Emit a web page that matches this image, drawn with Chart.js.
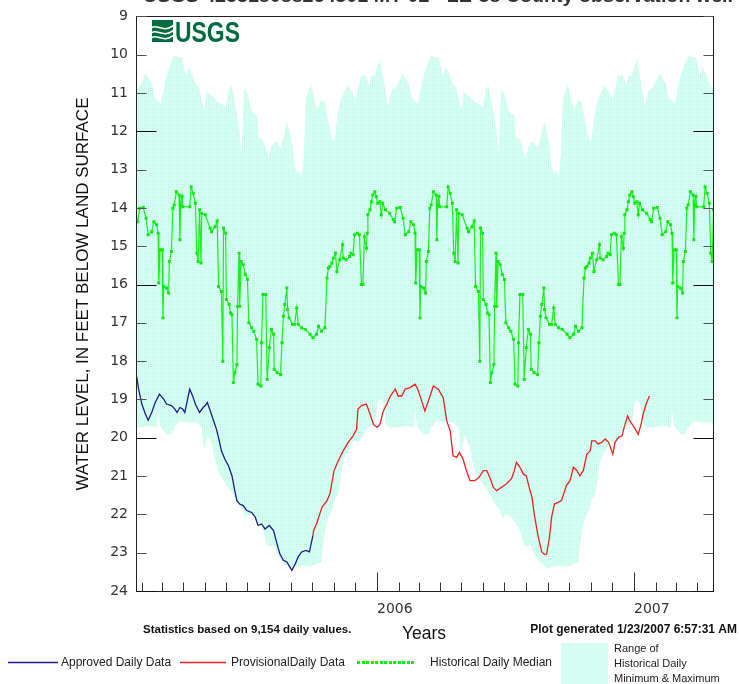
<!DOCTYPE html>
<html>
<head>
<meta charset="utf-8">
<title>Groundwater level</title>
<script src="https://cdn.jsdelivr.net/npm/chart.js@4.4.1/dist/chart.umd.min.js"></script>
<style>
  html, body { margin: 0; padding: 0; background: #fff; }
  canvas { display: block; }
</style>
</head>
<body>
<canvas id="well" width="739" height="684"></canvas>
<script>
// Time axis: day numbers counted from 2005-01-01 (day 0).
const X_MIN = 22.7, X_MAX = 842.2;
const yearTicks = [365, 730];
const yearLabels = ['2006', '2007'];
const DEPTH_MIN = 9, DEPTH_MAX = 24;

// Historical daily statistics, keyed by day of year: [day, feet below land surface]
const medianByDay = [
  [1,13.88],[4,13.84],[6,14.18],[8,13.88],[12,14.05],[18,14.14],[23,14.30],[25,14.36],
  [28,14.01],[33,13.99],[37,14.27],[40,14.70],[45,14.62],[48,14.36],[52,14.44],[54,14.66],
  [55,15.96],[57,15.09],[60,15.09],[61,16.87],[62,16.05],[66,16.09],[69,16.22],[70,15.40],
  [73,15.14],[75,14.01],[77,13.92],[80,13.58],[84,13.66],[85,14.83],[86,13.92],[88,13.70],
  [89,13.97],[99,13.97],[101,13.45],[104,13.62],[107,13.88],[109,15.18],[111,15.40],[113,14.05],
  [115,15.44],[116,14.14],[121,14.18],[128,14.53],[130,14.62],[135,14.49],[138,14.34],[140,16.05],
  [144,16.18],[146,18.00],[147,14.53],[150,14.66],[151,16.39],[155,16.52],[157,16.74],[159,16.79],
  [161,18.56],[163,18.30],[166,18.09],[167,16.57],[169,15.18],[170,16.57],[172,15.40],[175,15.48],
  [178,15.74],[181,15.87],[183,17.00],[187,17.13],[190,17.22],[194,17.43],[196,18.60],[200,18.65],
  [201,17.52],[203,16.26],[207,16.26],[209,18.48],[212,17.65],[215,17.17],[218,17.30],[219,18.21],
  [223,18.30],[228,18.35],[230,17.52],[232,16.83],[234,16.52],[237,16.09],[238,16.65],[240,16.87],
  [245,17.04],[248,17.04],[251,16.61],[253,17.04],[258,17.13],[263,17.17],[270,17.30],[274,17.39],
  [279,17.30],[282,17.09],[286,17.22],[291,17.13],[294,15.83],[296,15.57],[298,15.53],[301,15.44],
  [303,15.31],[306,15.18],[308,15.66],[312,15.35],[316,14.96],[317,15.31],[321,15.35],[326,15.27],
  [328,15.18],[331,15.22],[333,14.70],[337,14.66],[340,14.70],[343,16.00],[345,16.00],[347,14.75],
  [350,15.05],[351,14.66],[352,14.18],[355,14.05],[357,13.84],[359,13.66],[362,13.58],[364,13.71]
];
const maxByDay = [
  [0,10.33],[4,10.11],[8,10.50],[15,11.32],[22,10.89],[25,10.89],[29,10.80],[36,10.50],
  [41,10.63],[46,10.80],[49,11.11],[53,11.19],[58,11.28],[65,10.63],[70,10.33],[77,10.02],
  [84,10.07],[88,10.07],[93,10.54],[98,10.33],[103,10.54],[107,10.76],[112,10.85],[117,11.24],
  [120,11.41],[123,10.98],[129,11.06],[133,11.11],[138,11.24],[145,11.28],[150,11.37],[155,10.89],
  [158,10.80],[162,11.19],[167,11.63],[170,12.02],[172,12.55],[174,12.00],[176,10.89],[181,11.02],
  [186,11.41],[190,11.54],[195,11.58],[197,12.19],[202,12.19],[207,12.45],[211,12.70],[215,12.40],
  [219,12.28],[223,12.28],[228,12.45],[233,12.10],[237,11.76],[240,11.93],[245,12.36],[248,12.90],
  [251,13.10],[255,13.00],[258,13.20],[261,12.60],[264,11.15],[271,10.76],[276,11.19],[280,11.41],
  [286,11.19],[291,11.24],[294,11.58],[301,12.19],[304,12.25],[309,11.58],[313,11.19],[323,10.80],
  [330,10.98],[335,11.19],[342,10.54],[349,10.54],[354,10.80],[357,10.54],[361,10.56],[364,10.40]
];
const minByDay = [
  [1,19.10],[4,19.00],[8,19.08],[13,19.65],[18,19.73],[24,19.73],[43,19.69],[52,19.73],
  [54,19.30],[57,19.69],[66,19.91],[73,19.91],[78,19.69],[85,19.56],[95,19.60],[109,19.60],
  [116,19.73],[118,20.25],[121,20.25],[124,19.95],[128,20.08],[132,20.25],[135,20.60],[140,20.90],
  [144,21.03],[152,21.25],[159,21.42],[166,21.68],[175,21.90],[178,22.12],[182,22.00],[189,22.03],
  [196,22.20],[204,22.46],[208,22.77],[213,22.85],[218,22.77],[225,23.11],[232,23.24],[241,23.41],
  [251,23.37],[260,23.33],[270,23.37],[279,23.29],[286,23.24],[288,22.85],[291,22.42],[296,22.07],
  [301,21.90],[305,21.60],[310,21.47],[313,21.12],[317,20.60],[324,20.34],[331,20.08],[338,20.12],
  [346,19.91],[353,19.73],[360,19.69],[364,19.40]
];

// Measured daily water levels: [day since 2005-01-01, feet below land surface]
const approvedLevels = [
  [22,18.35],[24,18.43],[26,18.69],[31,19.12],[36,19.38],[40,19.54],[45,19.34],[50,19.08],
  [56,18.86],[62,18.99],[66,19.12],[73,19.16],[78,19.25],[81,19.34],[85,19.21],[89,19.25],
  [92,19.34],[96,18.99],[99,18.73],[103,18.90],[107,19.12],[113,19.34],[118,19.21],[121,19.16],
  [124,19.08],[128,19.29],[133,19.56],[137,19.78],[140,20.00],[144,20.34],[149,20.56],[154,20.73],
  [159,20.99],[163,21.38],[166,21.64],[170,21.73],[175,21.77],[180,21.90],[187,21.95],[192,22.07],
  [196,22.29],[201,22.25],[206,22.38],[212,22.29],[218,22.42],[223,22.77],[227,23.03],[232,23.20],
  [237,23.24],[244,23.46],[249,23.29],[253,23.11],[258,22.98],[264,22.94],[269,22.98],[274,22.55]
];
const provisionalLevels = [
  [274,22.55],[275,22.42],[279,22.25],[287,21.81],[294,21.64],[298,21.47],[304,20.86],[310,20.60],
  [317,20.34],[324,20.12],[331,19.95],[336,19.78],[338,19.25],[343,19.16],[350,19.12],[355,19.38],
  [360,19.65],[365,19.73],[369,19.65],[374,19.30],[379,19.12],[384,18.91],[391,18.73],[395,18.91],
  [400,18.91],[405,18.73],[412,18.69],[419,18.60],[422,18.69],[426,18.90],[433,19.30],[438,19.04],
  [445,18.65],[452,18.73],[459,18.95],[464,19.56],[469,19.82],[473,20.47],[478,20.51],[482,20.38],
  [487,20.55],[492,20.86],[497,21.12],[504,21.12],[510,21.03],[516,20.86],[521,20.86],[526,21.07],
  [530,21.29],[535,21.38],[542,21.29],[549,21.20],[556,21.07],[560,20.86],[563,20.64],[568,20.77],
  [573,20.95],[577,20.99],[581,21.29],[585,21.55],[589,22.07],[594,22.59],[599,22.98],[603,23.05],
  [606,23.03],[610,22.59],[613,22.07],[617,21.73],[623,21.68],[627,21.64],[630,21.47],[634,21.25],
  [639,21.12],[644,20.77],[649,20.86],[653,20.99],[658,20.86],[663,20.43],[668,20.34],[670,20.08],
  [675,20.08],[679,20.16],[684,20.12],[689,20.03],[694,20.12],[700,20.43],[703,20.12],[708,19.99],
  [713,19.95],[716,19.73],[721,19.43],[724,19.56],[729,19.69],[736,19.91],[740,19.65],[743,19.38],
  [748,19.08],[752,18.91]
];

const titleText = 'USGS 425318088264301 MT-02 - LE-38 County observation well';
const yTitle = 'WATER LEVEL, IN FEET BELOW LAND SURFACE';
const statsNote = 'Statistics based on 9,154 daily values.';
const generatedNote = 'Plot generated 1/23/2007 6:57:31 AM';
const xTitle = 'Years';

// Day-of-year statistics repeat for every calendar year on the axis.
const yearStarts = [0, 365, 730];
function spreadOverYears(rows) {
  const pts = [];
  yearStarts.forEach(s => rows.forEach(([d, v]) => pts.push({ x: s + d, y: v })));
  return pts;
}
const asPoints = rows => rows.map(([d, v]) => ({ x: d, y: v }));

const canvas = document.getElementById('well');
const ctx = canvas.getContext('2d');

// fine stippled mint fill for the historical range
function stipple() {
  const t = document.createElement('canvas');
  t.width = 2; t.height = 2;
  const g = t.getContext('2d');
  g.fillStyle = '#d7fff4'; g.fillRect(0, 0, 2, 2);
  g.fillStyle = '#c2f6e6'; g.fillRect(0, 0, 1, 1);
  return ctx.createPattern(t, 'repeat');
}

function seg(c, x1, y1, x2, y2) { c.beginPath(); c.moveTo(x1, y1); c.lineTo(x2, y2); c.stroke(); }

const decor = {
  id: 'decor',
  beforeDraw(chart) {
    const c = chart.ctx;
    c.save(); c.fillStyle = '#fff'; c.fillRect(0, 0, chart.width, chart.height); c.restore();
  },
  afterDraw(chart) {
    const c = chart.ctx, a = chart.chartArea, xs = chart.scales.x, ys = chart.scales.y;
    const L = Math.round(a.left) + 0.5, R = Math.round(a.right) + 0.5;
    const T = Math.round(a.top) + 0.5, B = Math.round(a.bottom) + 0.5;
    c.save();

    // plot frame
    c.lineWidth = 1; c.strokeStyle = '#222';
    c.strokeRect(L, T, R - L, B - T);

    // depth tick marks on both sides, longer every 4 ft
    for (let v = DEPTH_MIN; v <= DEPTH_MAX; v++) {
      const y = Math.round(ys.getPixelForValue(v)) + 0.5;
      const major = v % 4 === 0;
      const len = major ? 20 : 10;
      c.strokeStyle = major ? '#111' : '#555';
      seg(c, L, y, L + len, y);
      seg(c, R - len, y, R, y);
    }

    // month tick marks, longer at each new year
    const base = Date.UTC(2005, 0, 1);
    c.strokeStyle = '#333';
    for (let yr = 2005; yr <= 2007; yr++) {
      for (let m = 0; m < 12; m++) {
        const d = (Date.UTC(yr, m, 1) - base) / 86400000;
        if (d <= X_MIN || d >= X_MAX) continue;
        const x = Math.round(xs.getPixelForValue(d)) + 0.5;
        seg(c, x, B, x, B - (m === 0 ? 19 : 9));
      }
    }

    // title line, running off the top edge of the page
    c.save();
    c.fillStyle = '#333';
    c.font = 'bold 18px "Liberation Sans", Arial, sans-serif';
    c.textAlign = 'left'; c.textBaseline = 'alphabetic';
    const tw = c.measureText(titleText).width;
    c.translate(143, 2); c.scale(590 / tw, 1);
    c.fillText(titleText, 0, 0);
    c.restore();

    // USGS mark
    c.save();
    c.beginPath(); c.rect(152, 20, 21, 22); c.clip();
    c.fillStyle = '#006b3f'; c.fillRect(152, 20, 21, 22);
    c.strokeStyle = '#fff'; c.lineWidth = 1.5;
    for (let k = 0; k < 3; k++) {
      c.beginPath();
      c.moveTo(151, 28 + k * 5);
      c.bezierCurveTo(157, 23 + k * 5, 163, 34 + k * 5, 174, 25 + k * 5);
      c.stroke();
    }
    c.restore();
    c.save();
    c.fillStyle = '#006b3f';
    c.font = 'bold 29px "Liberation Sans Narrow", "Liberation Sans", Arial, sans-serif';
    const uw = c.measureText('USGS').width;
    c.translate(175, 42); c.scale(65 / uw, 1);
    c.fillText('USGS', 0, 0);
    c.restore();

    // vertical axis title
    c.save();
    c.translate(83, 294); c.rotate(-Math.PI / 2);
    c.fillStyle = '#111';
    c.font = '17px "Liberation Sans", Arial, sans-serif';
    c.textAlign = 'center'; c.textBaseline = 'middle';
    c.fillText(yTitle, 0, 0);
    c.restore();

    // notes under the axis
    c.fillStyle = '#111';
    c.font = 'bold 11.5px "Liberation Sans", Arial, sans-serif';
    c.textAlign = 'left'; c.textBaseline = 'alphabetic';
    c.fillText(statsNote, 143, 633);
    c.font = 'bold 12px "Liberation Sans", Arial, sans-serif';
    c.textAlign = 'right';
    c.fillText(generatedNote, 737, 633);
    c.font = '17.5px "Liberation Sans", Arial, sans-serif';
    c.textAlign = 'center';
    c.fillText(xTitle, 424, 639);

    // legend
    const ly = 662.5;
    c.lineWidth = 1.6;
    c.strokeStyle = '#1c1c8a'; seg(c, 8, ly, 58, ly);
    c.strokeStyle = '#ee2222'; seg(c, 180, ly, 226, ly);
    c.fillStyle = '#11ee11';
    for (let x = 357; x <= 415; x += 4.5) c.fillRect(Math.round(x), ly - 1.5, 3, 3);
    c.fillStyle = '#d5fef2'; c.fillRect(561, 643, 47, 41);
    c.fillStyle = '#222';
    c.font = '12px "Liberation Sans", Arial, sans-serif';
    c.textAlign = 'left'; c.textBaseline = 'middle';
    c.fillText('Approved Daily Data', 61, ly);
    c.fillText('ProvisionalDaily Data', 231, ly);
    c.fillText('Historical Daily Median', 430, ly);
    c.font = '11px "Liberation Sans", Arial, sans-serif';
    c.fillText('Range of', 614, 649);
    c.fillText('Historical Daily', 614, 664);
    c.fillText('Minimum & Maximum', 614, 679);

    c.restore();
  }
};

new Chart(ctx, {
  type: 'line',
  data: {
    datasets: [
      {
        label: 'Historical daily maximum',
        data: spreadOverYears(maxByDay),
        borderWidth: 0, pointRadius: 0,
        backgroundColor: stipple(),
        fill: '+1', order: 10
      },
      {
        label: 'Historical daily minimum',
        data: spreadOverYears(minByDay),
        borderWidth: 0, pointRadius: 0,
        fill: false, order: 11
      },
      {
        label: 'Historical Daily Median',
        data: spreadOverYears(medianByDay),
        borderColor: '#1cf01c', borderWidth: 1.2,
        pointStyle: 'rect', pointRadius: 2.1,
        pointBackgroundColor: '#11e811', pointBorderWidth: 0,
        fill: false, order: 3
      },
      {
        label: 'Approved Daily Data',
        data: asPoints(approvedLevels),
        borderColor: '#1c1c8a', borderWidth: 1.3, pointRadius: 0,
        fill: false, order: 2
      },
      {
        label: 'ProvisionalDaily Data',
        data: asPoints(provisionalLevels),
        borderColor: '#ee2222', borderWidth: 1.3, pointRadius: 0,
        fill: false, order: 1
      }
    ]
  },
  options: {
    responsive: false,
    animation: false,
    devicePixelRatio: 1,
    parsing: false,
    layout: { padding: { top: 14, right: 26, left: 0, bottom: 0 } },
    plugins: { legend: { display: false }, tooltip: { enabled: false }, title: { display: false } },
    scales: {
      x: {
        type: 'linear', min: X_MIN, max: X_MAX,
        grid: { display: false, drawTicks: false },
        border: { display: false },
        afterBuildTicks: s => { s.ticks = yearTicks.map(v => ({ value: v })); },
        afterFit: s => { s.height = 93; },
        ticks: {
          padding: 10, maxRotation: 0, autoSkip: false, align: 'start',
          color: '#333', font: { family: 'DejaVu Sans', size: 14 },
          callback: v => { const i = yearTicks.indexOf(v); return i >= 0 ? yearLabels[i] : ''; }
        }
      },
      y: {
        type: 'linear', reverse: true, min: DEPTH_MIN, max: DEPTH_MAX,
        grid: { display: false, drawTicks: false },
        border: { display: false },
        afterFit: s => { s.width = 136; },
        ticks: {
          stepSize: 1, padding: 8,
          color: '#333', font: { family: 'DejaVu Sans', size: 14 }
        }
      }
    }
  },
  plugins: [decor]
});
</script>
</body>
</html>
